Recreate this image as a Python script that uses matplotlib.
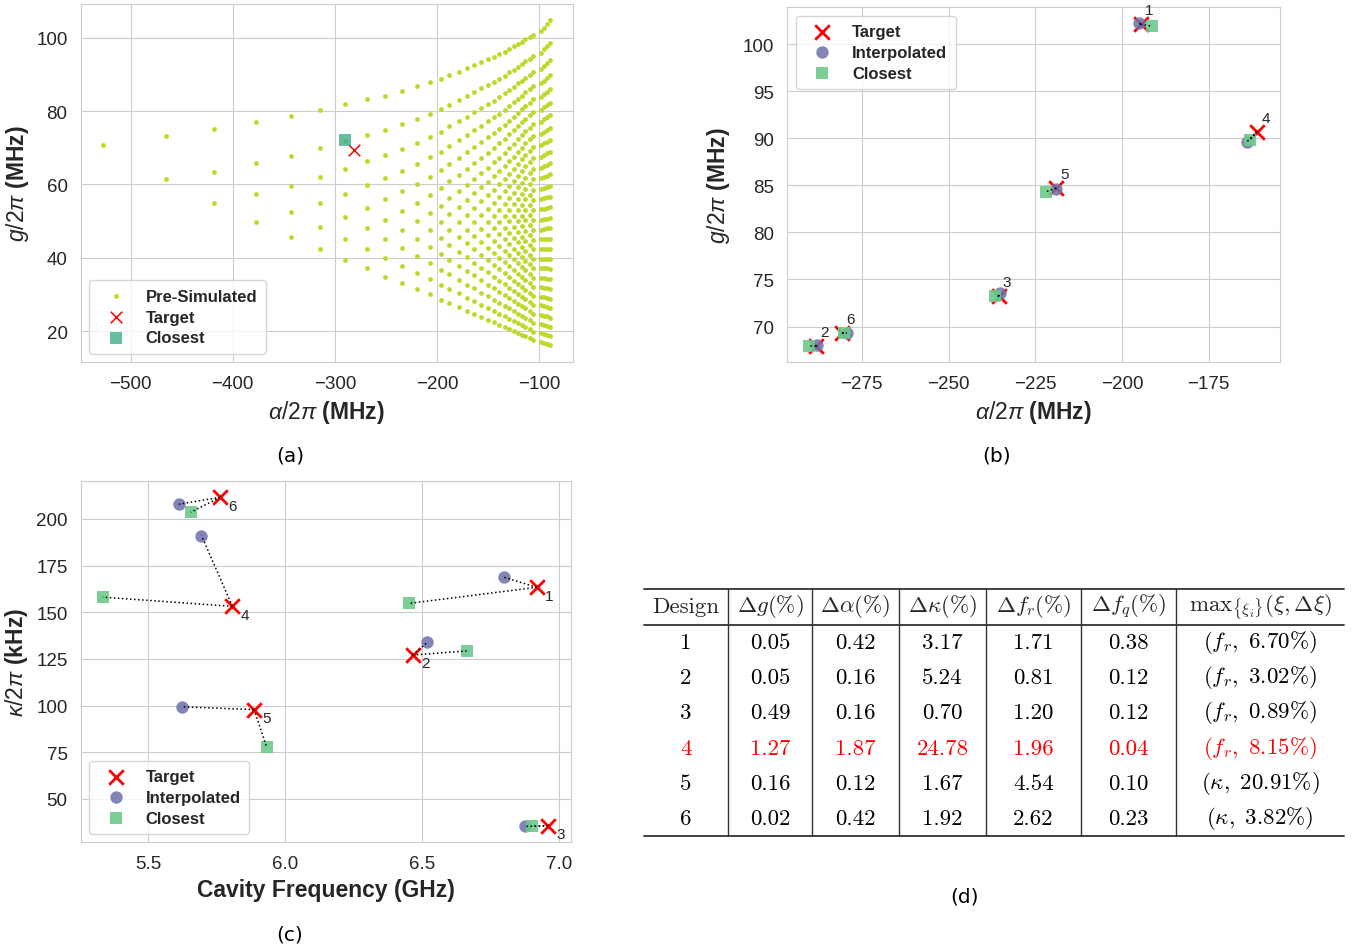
import matplotlib
matplotlib.use("Agg")
import matplotlib.pyplot as plt
import seaborn as sns

# ---------------- (a) pre-simulated grid: one alpha per column, g values per column ----------------
pre_alpha = [-527, -465, -418, -377, -343, -315, -290, -269, -251, -234, -220, -207, -196,
             -188, -179, -171, -164, -157, -150.5, -144.5, -139, -134, -129.5, -125, -121,
             -117, -113.5, -109.5, -106, -98.0, -95.2, -92.4, -89.6]
pre_g = [
    [70.7],
    [73.3, 61.6],
    [75.2, 63.5, 54.9],
    [77.1, 65.7, 57.3, 49.7],
    [78.7, 67.8, 59.7, 52.4, 45.6],
    [80.3, 69.8, 62.0, 55.0, 48.5, 42.3],
    [81.8, 71.7, 64.2, 57.5, 51.2, 45.2, 39.5],
    [83.2, 73.5, 66.3, 59.8, 53.7, 48.0, 42.4, 37.1],
    [84.2, 74.9, 67.9, 61.7, 55.9, 50.4, 45.0, 39.9, 34.9],
    [85.4, 76.4, 69.7, 63.7, 58.1, 52.7, 47.6, 42.6, 37.8, 33.1],
    [86.7, 77.9, 71.4, 65.6, 60.1, 54.9, 50.0, 45.1, 40.4, 35.9, 31.4],
    [87.8, 79.3, 73.0, 67.4, 62.1, 57.0, 52.2, 47.5, 43.0, 38.6, 34.2, 30.0],
    [88.8, 80.6, 74.4, 68.9, 63.8, 58.9, 54.2, 49.7, 45.3, 41.0, 36.8, 32.6, 28.6],
    [89.7, 81.7, 75.8, 70.5, 65.6, 60.8, 56.3, 51.9, 47.7, 43.5, 39.4, 35.5, 31.5, 27.7],
    [90.7, 82.9, 77.2, 72.0, 67.2, 62.6, 58.2, 53.9, 49.7, 45.7, 41.7, 37.8, 34.0, 30.3, 26.6],
    [91.6, 84.0, 78.4, 73.4, 68.7, 64.2, 59.9, 55.7, 51.7, 47.7, 43.9, 40.1, 36.4, 32.7, 29.1, 25.6],
    [92.5, 85.1, 79.7, 74.8, 70.2, 65.8, 61.6, 57.6, 53.6, 49.8, 46.0, 42.3, 38.7, 35.2, 31.7, 28.2, 24.8],
    [93.4, 86.2, 80.9, 76.0, 71.6, 67.3, 63.2, 59.2, 55.4, 51.6, 47.9, 44.3, 40.8, 37.3, 33.9, 30.5, 27.2, 23.9],
    [94.1, 87.1, 81.9, 77.2, 72.8, 68.6, 64.6, 60.7, 57.0, 53.3, 49.7, 46.2, 42.8, 39.4, 36.0, 32.7, 29.5, 26.3, 23.1],
    [94.8, 87.9, 82.8, 78.3, 74.0, 69.9, 66.0, 62.2, 58.6, 55.0, 51.5, 48.0, 44.7, 41.4, 38.1, 34.9, 31.7, 28.6, 25.5, 22.4],
    [95.5, 88.8, 83.8, 79.3, 75.1, 71.2, 67.3, 63.6, 60.0, 56.5, 53.1, 49.8, 46.5, 43.2, 40.0, 36.9, 33.8, 30.7, 27.7, 24.7, 21.7],
    [96.2, 89.6, 84.8, 80.4, 76.3, 72.4, 68.6, 65.0, 61.5, 58.1, 54.7, 51.4, 48.2, 45.0, 41.9, 38.8, 35.8, 32.8, 29.8, 26.9, 24.0, 21.1],
    [96.9, 90.5, 85.7, 81.4, 77.4, 73.6, 69.9, 66.4, 62.9, 59.6, 56.3, 53.1, 49.9, 46.8, 43.8, 40.7, 37.8, 34.8, 31.9, 29.0, 26.2, 23.4, 20.6],
    [97.6, 91.3, 86.6, 82.4, 78.5, 74.7, 71.1, 67.6, 64.3, 61.0, 57.7, 54.6, 51.5, 48.4, 45.4, 42.5, 39.6, 36.7, 33.8, 31.0, 28.2, 25.4, 22.7, 20.0],
    [98.3, 92.1, 87.5, 83.4, 79.5, 75.8, 72.3, 68.9, 65.6, 62.3, 59.2, 56.1, 53.0, 50.0, 47.1, 44.2, 41.3, 38.5, 35.7, 32.9, 30.2, 27.5, 24.8, 22.1, 19.5],
    [98.9, 92.8, 88.3, 84.2, 80.5, 76.9, 73.4, 70.0, 66.8, 63.6, 60.5, 57.5, 54.5, 51.5, 48.7, 45.8, 43.0, 40.2, 37.5, 34.7, 32.1, 29.4, 26.8, 24.2, 21.6, 19.0],
    [99.5, 93.5, 89.1, 85.1, 81.4, 77.9, 74.5, 71.2, 68.0, 64.9, 61.8, 58.8, 55.9, 53.0, 50.2, 47.4, 44.6, 41.9, 39.2, 36.6, 33.9, 31.3, 28.7, 26.2, 23.6, 21.1, 18.6],
    [100.1, 94.2, 89.9, 86.0, 82.3, 78.8, 75.5, 72.3, 69.1, 66.1, 63.1, 60.1, 57.2, 54.4, 51.6, 48.9, 46.1, 43.5, 40.8, 38.2, 35.6, 33.0, 30.5, 28.0, 25.5, 23.0, 20.5, 18.1],
    [100.8, 95.0, 90.7, 86.8, 83.2, 79.8, 76.5, 73.3, 70.2, 67.2, 64.2, 61.4, 58.5, 55.7, 53.0, 50.2, 47.6, 44.9, 42.3, 39.7, 37.2, 34.6, 32.1, 29.6, 27.2, 24.7, 22.3, 19.9, 17.5],
    [101.8, 95.9, 91.5, 87.5, 83.9, 80.4, 77.1, 73.8, 70.7, 67.6, 64.6, 61.7, 58.8, 56.0, 53.2, 50.4, 47.7, 45.0, 42.3, 39.7, 37.2, 34.5, 32.0, 29.4, 27.0, 24.5, 22.0, 19.6, 17.1],
    [102.7, 96.8, 92.3, 88.3, 84.6, 81.1, 77.7, 74.4, 71.2, 68.1, 65.0, 62.1, 59.1, 56.2, 53.4, 50.5, 47.8, 45.1, 42.4, 39.7, 37.1, 34.4, 31.8, 29.3, 26.8, 24.2, 21.7, 19.3, 16.8],
    [103.7, 97.6, 93.1, 89.0, 85.3, 81.7, 78.3, 74.9, 71.6, 68.5, 65.4, 62.4, 59.4, 56.5, 53.6, 50.7, 48.0, 45.1, 42.4, 39.7, 37.1, 34.3, 31.7, 29.1, 26.6, 24.0, 21.5, 18.9, 16.4],
    [104.7, 98.5, 93.9, 89.8, 86.0, 82.3, 78.8, 75.4, 72.1, 68.9, 65.7, 62.8, 59.7, 56.7, 53.8, 50.9, 48.1, 45.2, 42.4, 39.7, 37.0, 34.3, 31.6, 28.9, 26.4, 23.7, 21.2, 18.6, 16.1],
]
a_target_alpha = [-281.0]
a_target_g = [69.3]
a_closest_alpha = [-290.0]
a_closest_g = [72.0]

# ---------------- (b) / (c) designs ----------------
designs = ["1", "2", "3", "4", "5", "6"]
b_target_alpha = [-194.6, -288.3, -235.5, -161.0, -219.0, -280.6]
b_target_g = [102.1, 67.9, 73.2, 90.7, 84.7, 69.3]
b_interp_alpha = [-195.0, -287.8, -235.2, -164.0, -219.0, -279.4]
b_interp_g = [102.2, 68.0, 73.6, 89.6, 84.6, 69.3]
b_closest_alpha = [-191.3, -290.2, -236.5, -163.1, -222.0, -280.1]
b_closest_g = [101.9, 67.9, 73.2, 89.8, 84.3, 69.35]

c_target_f = [6.918, 6.465, 6.960, 5.807, 5.886, 5.762]
c_target_k = [163.4, 127.1, 35.7, 153.2, 97.9, 211.6]
c_interp_f = [6.798, 6.518, 6.875, 5.694, 5.622, 5.611]
c_interp_k = [168.8, 133.9, 35.3, 191.1, 99.4, 207.9]
c_closest_f = [6.453, 6.662, 6.901, 5.334, 5.932, 5.655]
c_closest_k = [154.8, 129.3, 35.3, 158.1, 77.7, 203.6]

# ---------------- (d) table ----------------
table_header = [r"Design", r"$\Delta g(\%)$", r"$\Delta\alpha(\%)$", r"$\Delta\kappa(\%)$",
                r"$\Delta f_r(\%)$", r"$\Delta f_q(\%)$", r"$\mathrm{max}_{\{\xi_i\}}(\xi,\Delta\xi)$"]
table_dg = ["0.05", "0.05", "0.49", "1.27", "0.16", "0.02"]
table_da = ["0.42", "0.16", "0.16", "1.87", "0.12", "0.42"]
table_dk = ["3.17", "5.24", "0.70", "24.78", "1.67", "1.92"]
table_dfr = ["1.71", "0.81", "1.20", "1.96", "4.54", "2.62"]
table_dfq = ["0.38", "0.12", "0.12", "0.04", "0.10", "0.23"]
table_max = [r"$(f_r,$ $6.70\%)$", r"$(f_r,$ $3.02\%)$", r"$(f_r,$ $0.89\%)$",
             r"$(f_r,$ $8.15\%)$", r"$(\kappa,$ $20.91\%)$", r"$(\kappa,$ $3.82\%)$"]
highlight_row = 3

# ---------------- style ----------------
sns.set_style("whitegrid")
plt.rcParams["font.family"] = ["Liberation Sans", "DejaVu Sans"]
plt.rcParams["mathtext.fontset"] = "custom"
plt.rcParams["mathtext.rm"] = "Liberation Sans"
plt.rcParams["mathtext.it"] = "Liberation Sans:italic"
plt.rcParams["mathtext.bf"] = "Liberation Sans:bold"
TXT = "#262626"

W, H = 1362, 953
fig = plt.figure(figsize=(W / 100, H / 100), dpi=100)

def add_ax(l, r, t, b):
    return fig.add_axes([l / W, 1 - b / H, (r - l) / W, (b - t) / H])

axA = add_ax(80.7, 572.5, 4.5, 363)
axB = add_ax(787.3, 1280, 8.3, 363.3)
axC = add_ax(80.7, 571, 481.7, 843.3)

PRE_C = "#bfd92b"
TGT_C = "#ff0000"
INT_C = "#6c70a9"
CLO_C = "#6cc98b"
CLO_A = "#3fae86"

for ax in (axA, axB, axC):
    ax.tick_params(labelsize=13.5, pad=6, colors=TXT)
    for sp in ax.spines.values():
        sp.set_color("#cccccc")

LEG = dict(prop={"weight": "bold", "size": 12}, frameon=True, borderpad=0.5,
           labelspacing=0.35, handletextpad=0.7, handlelength=2.2)

# (a)
pa_x, pa_y = [], []
for a, col in zip(pre_alpha, pre_g):
    pa_x += [a] * len(col)
    pa_y += col
axA.scatter(pa_x, pa_y, s=12, color=PRE_C, linewidths=0, label="Pre-Simulated", zorder=2)
axA.scatter(a_target_alpha, a_target_g, marker="x", s=70, color=TGT_C, linewidths=1.1, label="Target", zorder=3)
axA.scatter(a_closest_alpha, a_closest_g, marker="s", s=80, color=CLO_A, alpha=0.8, linewidths=0, label="Closest", zorder=3)
axA.set_xlim(-548.8, -67.5)
axA.set_ylim(11.6, 109.3)
axA.set_xticks([-500, -400, -300, -200, -100])
axA.set_yticks([20, 40, 60, 80, 100])
axA.set_xlabel(r"$\alpha/2\pi$ (MHz)", fontsize=16.5, fontweight="bold", color=TXT)
axA.set_ylabel(r"$g/2\pi$ (MHz)", fontsize=16.5, fontweight="bold", color=TXT)
axA.legend(loc="lower left", **LEG)

# (b)
axB.scatter(b_target_alpha, b_target_g, marker="x", s=110, color=TGT_C, linewidths=2, label="Target", zorder=3)
axB.scatter(b_interp_alpha, b_interp_g, marker="o", s=80, color=INT_C, alpha=0.85, linewidths=0, label="Interpolated", zorder=4)
axB.scatter(b_closest_alpha, b_closest_g, marker="s", s=80, color=CLO_C, alpha=0.9, linewidths=0, label="Closest", zorder=5)
for i in range(len(designs)):
    axB.plot([b_target_alpha[i], b_interp_alpha[i]], [b_target_g[i], b_interp_g[i]], ls=":", color="k", lw=1.1, zorder=6)
    axB.plot([b_target_alpha[i], b_closest_alpha[i]], [b_target_g[i], b_closest_g[i]], ls=":", color="k", lw=1.1, zorder=6)
    axB.annotate(designs[i], (b_target_alpha[i], b_target_g[i]), xytext=(6, 10), textcoords="offset points",
                 ha="center", va="center", fontsize=11, color=TXT)
axB.set_xlim(-296.5, -154.4)
axB.set_ylim(66.2, 103.9)
axB.set_xticks([-275, -250, -225, -200, -175])
axB.set_yticks([70, 75, 80, 85, 90, 95, 100])
axB.set_xlabel(r"$\alpha/2\pi$ (MHz)", fontsize=16.5, fontweight="bold", color=TXT)
axB.set_ylabel(r"$g/2\pi$ (MHz)", fontsize=16.5, fontweight="bold", color=TXT, labelpad=8)
axB.legend(loc="upper left", **LEG)

# (c)
axC.scatter(c_target_f, c_target_k, marker="x", s=110, color=TGT_C, linewidths=2, label="Target", zorder=3)
axC.scatter(c_interp_f, c_interp_k, marker="o", s=80, color=INT_C, alpha=0.85, linewidths=0, label="Interpolated", zorder=4)
axC.scatter(c_closest_f, c_closest_k, marker="s", s=80, color=CLO_C, alpha=0.9, linewidths=0, label="Closest", zorder=5)
for i in range(len(designs)):
    axC.plot([c_target_f[i], c_interp_f[i]], [c_target_k[i], c_interp_k[i]], ls=":", color="k", lw=1.1, zorder=6)
    axC.plot([c_target_f[i], c_closest_f[i]], [c_target_k[i], c_closest_k[i]], ls=":", color="k", lw=1.1, zorder=6)
    axC.annotate(designs[i], (c_target_f[i], c_target_k[i]), xytext=(9, -6), textcoords="offset points",
                 ha="center", va="center", fontsize=11, color=TXT)
axC.set_xlim(5.253, 7.043)
axC.set_ylim(26.8, 220.5)
axC.set_xticks([5.5, 6.0, 6.5, 7.0])
axC.set_yticks([50, 75, 100, 125, 150, 175, 200])
axC.set_xlabel("Cavity Frequency (GHz)", fontsize=16.5, fontweight="bold", color=TXT)
axC.set_ylabel(r"$\kappa/2\pi$ (kHz)", fontsize=16.5, fontweight="bold", color=TXT)
axC.legend(loc="lower left", **LEG)

# panel labels
for txt, x, y in [("(a)", 290, 456), ("(b)", 997, 456), ("(c)", 290, 935), ("(d)", 965, 897)]:
    fig.text(x / W, 1 - y / H, txt, ha="center", va="center", fontsize=14.5, family="DejaVu Sans", color="k")

# (d) table drawn as text + rules
axT = fig.add_axes([0, 0, 1, 1])
axT.set_xlim(0, W)
axT.set_ylim(H, 0)
axT.axis("off")
col_edges = [644, 728, 812, 899, 986, 1081, 1176, 1344]
centers = [(col_edges[i] + col_edges[i + 1]) / 2 for i in range(7)]
top, mid, bot = 590, 626, 837
for y in (top, mid, bot):
    axT.plot([col_edges[0], col_edges[-1]], [y, y], color="#333333", lw=1.3)
for x in col_edges[1:-1]:
    axT.plot([x, x], [top, bot], color="#333333", lw=1.0)
FS = 16.5
for i, h in enumerate(table_header):
    if i == 0:
        axT.text(centers[i], 607, h, ha="center", va="center", fontsize=FS, family="cmr10")
    else:
        axT.text(centers[i], 607, h, ha="center", va="center", fontsize=FS, math_fontfamily="cm")
row_y = [643, 678, 713, 749, 784, 819]
for r in range(6):
    c = "#ff0000" if r == highlight_row else "k"
    vals = [designs[r], table_dg[r], table_da[r], table_dk[r], table_dfr[r], table_dfq[r]]
    for i, v in enumerate(vals):
        axT.text(centers[i], row_y[r], v, ha="center", va="center", fontsize=FS, family="cmr10", color=c)
    axT.text(centers[6], row_y[r], table_max[r], ha="center", va="center", fontsize=FS, math_fontfamily="cm", color=c)

fig.savefig("out.png", dpi=100)
